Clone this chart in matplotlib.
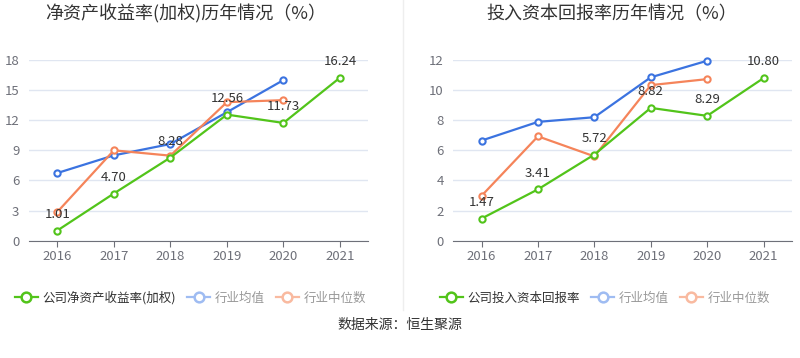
import matplotlib
matplotlib.use('Agg')
import matplotlib.pyplot as plt
from matplotlib.lines import Line2D

plt.rcParams['font.family'] = ['Noto Sans CJK SC', 'DejaVu Sans']

years = ['2016', '2017', '2018', '2019', '2020', '2021']

# 净资产收益率(加权)
roe_company = [1.01, 4.70, 8.28, 12.56, 11.73, 16.24]
roe_mean = [6.74, 8.5, 9.63, 12.8, 16.0]
roe_median = [2.86, 9.0, 8.47, 13.8, 14.0]

# 投入资本回报率
roic_company = [1.47, 3.41, 5.72, 8.82, 8.29, 10.80]
roic_mean = [6.65, 7.89, 8.2, 10.85, 11.95]
roic_median = [2.98, 6.93, 5.6, 10.33, 10.73]

green = '#52c41a'
blue = '#3b73e0'
orange = '#f5845a'
blue_l = '#9fbcf2'
orange_l = '#f9baa0'
grid_c = '#e0e6f1'
tick_c = '#6e7079'


def draw(ax, comp, mean, median, ymax, step):
    x = list(range(len(years)))
    for vals, c in [(mean, blue), (median, orange), (comp, green)]:
        ax.plot(x[:len(vals)], vals, color=c, lw=1.6, marker='o', ms=4.5,
                mfc='white', mec=c, mew=1.5, zorder=3, clip_on=False)
    for i, v in enumerate(comp):
        ax.annotate('%.2f' % v, (i, v), xytext=(0, 7), textcoords='offset points',
                    ha='center', va='bottom', fontsize=9.5, color='#333333', zorder=5)
    ax.set_xlim(-0.5, len(years) - 0.5)
    ax.set_ylim(0, ymax)
    ax.set_yticks(range(0, ymax + 1, step))
    ax.set_xticks(x)
    ax.set_xticklabels(years)
    ax.grid(axis='y', color=grid_c, lw=1)
    ax.set_axisbelow(True)
    for s in ['top', 'right', 'left']:
        ax.spines[s].set_visible(False)
    ax.spines['bottom'].set_color(tick_c)
    ax.tick_params(axis='y', length=0, colors=tick_c, labelsize=9.5, pad=7)
    ax.tick_params(axis='x', length=4, color=tick_c, colors=tick_c, labelsize=9.5, pad=3)


fig = plt.figure(figsize=(8, 3.58), dpi=100)
ax1 = fig.add_axes([0.0363, 0.3277, 0.424, 0.5047])
ax2 = fig.add_axes([0.5667, 0.3277, 0.423, 0.5047])
draw(ax1, roe_company, roe_mean, roe_median, 18, 3)
draw(ax2, roic_company, roic_mean, roic_median, 12, 2)

fig.text(0.232, 1 - 14 / 358, '净资产收益率(加权)历年情况（%）', ha='center', va='center',
         fontsize=13, color='#333333')
fig.text(0.765, 1 - 14 / 358, '投入资本回报率历年情况（%）', ha='center', va='center',
         fontsize=13, color='#333333')

fig.add_artist(Line2D([403 / 800, 403 / 800], [1 - 310 / 358, 1], color='#eeeeee', lw=1))


def legend(x0, label):
    items = [(label, green, '#333333'), ('行业均值', blue_l, '#999999'),
             ('行业中位数', orange_l, '#999999')]
    handles = [Line2D([], [], color=c, lw=1.6, marker='o', ms=7, mfc='white', mec=c, mew=1.8)
               for _, c, _ in items]
    leg = fig.legend(handles, [t for t, _, _ in items], loc='center left',
                     bbox_to_anchor=(x0, 1 - 298 / 358), ncol=3, frameon=False,
                     fontsize=9, handlelength=1.8, handletextpad=0.4, columnspacing=0.9,
                     borderaxespad=0, borderpad=0)
    for t, (_, _, tc) in zip(leg.get_texts(), items):
        t.set_color(tc)


legend(15 / 800, '公司净资产收益率(加权)')
legend(440 / 800, '公司投入资本回报率')

fig.text(0.5, 1 - 325 / 358, '数据来源：恒生聚源', ha='center', va='center',
         fontsize=10, color='#333333')

fig.savefig('out.png', dpi=100)
